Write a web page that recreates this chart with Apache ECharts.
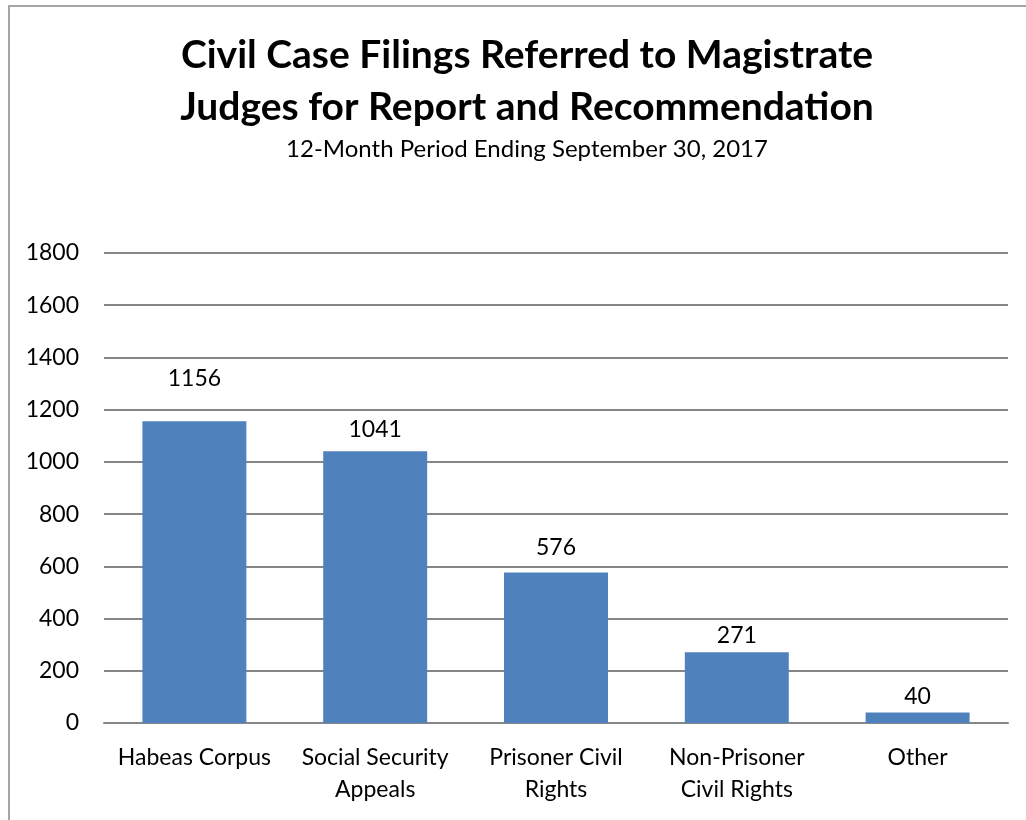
<!DOCTYPE html>
<html lang="en">
<head>
    <meta charset="UTF-8">
    <title>Civil Case Filings</title>
    <style>
        * { margin: 0; padding: 0; }
        body { background: #fff; }
        .frame {
            position: absolute; left: 8px; top: 5px; width: 1040px; height: 840px;
            border: 2px solid #a6a6a6; box-sizing: border-box;
        }
        #chart { position: absolute; left: 0; top: 0; width: 1026px; height: 820px; }
    </style>
</head>
<body>
    <div class="frame"></div>
    <div id="chart"></div>
</body>
</html>
<script src="https://cdn.jsdelivr.net/npm/echarts@6/dist/echarts.min.js"></script>
<script>
    const categories = ['Habeas Corpus', 'Social Security\nAppeals', 'Prisoner Civil\nRights', 'Non-Prisoner\nCivil Rights', 'Other'];
    const filings = [1156, 1041, 576, 271, 40];
    // gap between each value label and its bar, as in the original (labels were nudged by hand)
    const labelGap = [31, 10, 14, 5, 4];

    var myChart = echarts.init(document.getElementById('chart'));
    var font = 'Lato';

    myChart.setOption({
        animation: false,
        title: [{
            text: 'Civil Case Filings Referred to Magistrate\nJudges for Report and Recommendation',
            left: 522,
            top: 24,
            textAlign: 'center',
            textStyle: { fontFamily: font, fontWeight: 'bold', fontSize: 39, lineHeight: 52, color: '#000' }
        }, {
            text: '12-Month Period Ending September 30, 2017',
            left: 522,
            top: 132,
            textAlign: 'center',
            textStyle: { fontFamily: font, fontWeight: 'normal', fontSize: 24, color: '#000' }
        }],
        grid: { left: 104, right: 18, top: 253, bottom: 97 },
        xAxis: {
            type: 'category',
            data: categories,
            axisLine: { lineStyle: { color: '#868686', width: 2 } },
            axisTick: { show: false },
            axisLabel: { interval: 0, fontFamily: font, fontSize: 23, color: '#000', lineHeight: 32, margin: 19 }
        },
        yAxis: {
            type: 'value',
            min: 0, max: 1800, interval: 200,
            axisLine: { show: false },
            axisTick: { show: false },
            splitLine: { lineStyle: { color: '#868686', width: 2 } },
            axisLabel: { fontFamily: font, fontSize: 23, color: '#000', margin: 25, formatter: (v) => String(v) }
        },
        series: [{
            type: 'bar',
            data: filings.map((v, i) => ({ value: v, label: { distance: labelGap[i] } })),
            barWidth: '57.5%',
            itemStyle: { color: '#4f81bd' },
            label: {
                show: true, position: 'top',
                fontFamily: font, fontSize: 23, color: '#000'
            }
        }]
    });
</script>
